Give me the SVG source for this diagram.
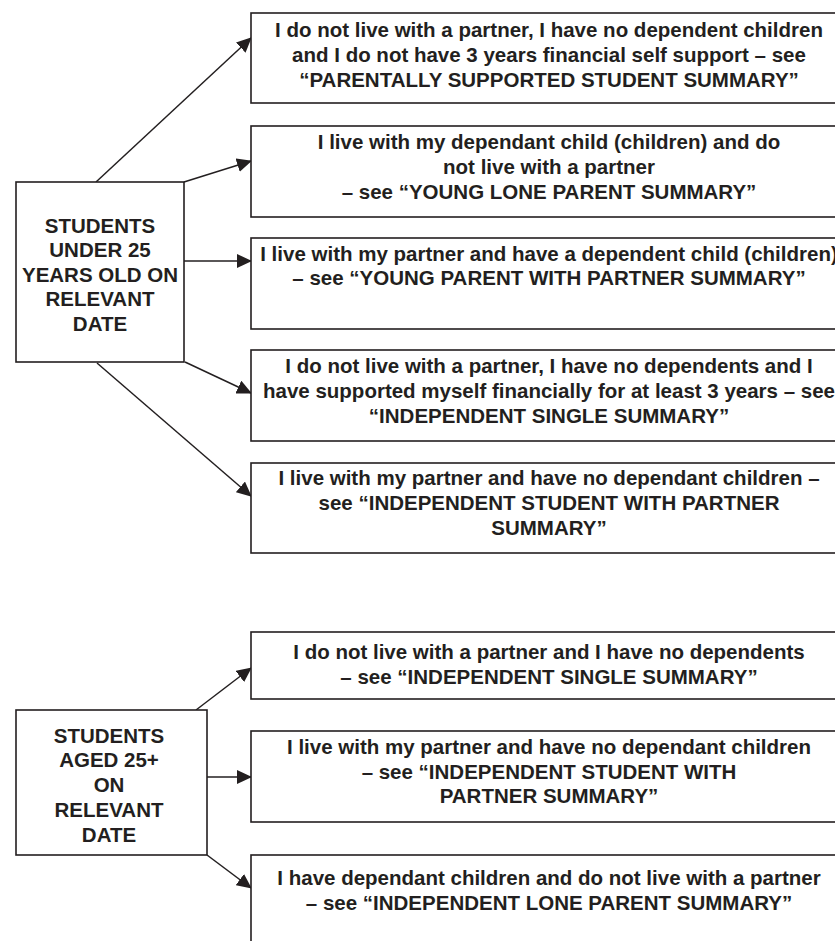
<svg xmlns="http://www.w3.org/2000/svg" width="835" height="941" viewBox="0 0 835 941">
<style>
.box{fill:#fff;stroke:#231f20;stroke-width:1.6}
.t{font-family:"Liberation Sans",Arial,sans-serif;font-weight:bold;font-size:20.5px;fill:#231f20;text-anchor:middle}
.c{stroke:#231f20;stroke-width:1.5;fill:none;marker-end:url(#ah)}
</style>
<defs>
<marker id="ah" markerUnits="userSpaceOnUse" markerWidth="15" markerHeight="14" refX="14" refY="7" orient="auto" viewBox="0 0 15 14">
<path d="M0,0 L15,7 L0,14 z" fill="#231f20"/>
</marker>
</defs>
<rect width="835" height="941" fill="#fff"/>
<g id="connectors">
<line class="c" x1="96" y1="182" x2="251" y2="38"/>
<line class="c" x1="184" y1="182" x2="251" y2="161"/>
<line class="c" x1="184" y1="261" x2="251" y2="261"/>
<line class="c" x1="185" y1="362" x2="251" y2="393"/>
<line class="c" x1="97" y1="363" x2="251" y2="496"/>
<line class="c" x1="196" y1="710" x2="251" y2="668"/>
<line class="c" x1="207" y1="777" x2="251" y2="777"/>
<line class="c" x1="207" y1="855" x2="251" y2="888"/>
</g>
<g id="under25">
<rect class="box" x="16" y="182" width="168" height="180"/>
<text class="t" x="100" y="233">STUDENTS</text>
<text class="t" x="100" y="257">UNDER 25</text>
<text class="t" x="100" y="282">YEARS OLD ON</text>
<text class="t" x="100" y="306">RELEVANT</text>
<text class="t" x="100" y="331">DATE</text>
</g>
<g id="parentally">
<rect class="box" x="251" y="13" width="600" height="90"/>
<text class="t" x="549" y="37">I do not live with a partner, I have no dependent children</text>
<text class="t" x="549" y="62">and I do not have 3 years financial self support – see</text>
<text class="t" x="549" y="87">“PARENTALLY SUPPORTED STUDENT SUMMARY”</text>
</g>
<g id="younglone">
<rect class="box" x="251" y="126" width="600" height="91"/>
<text class="t" x="549" y="149">I live with my dependant child (children) and do</text>
<text class="t" x="549" y="174">not live with a partner</text>
<text class="t" x="549" y="199">– see “YOUNG LONE PARENT SUMMARY”</text>
</g>
<g id="youngpartner">
<rect class="box" x="251" y="238" width="600" height="91"/>
<text class="t" x="549" y="261">I live with my partner and have a dependent child (children)</text>
<text class="t" x="549" y="285">– see “YOUNG PARENT WITH PARTNER SUMMARY”</text>
</g>
<g id="indsingle1">
<rect class="box" x="251" y="350" width="600" height="91"/>
<text class="t" x="549" y="373">I do not live with a partner, I have no dependents and I</text>
<text class="t" x="549" y="398">have supported myself financially for at least 3 years – see</text>
<text class="t" x="549" y="423">“INDEPENDENT SINGLE SUMMARY”</text>
</g>
<g id="indpartner1">
<rect class="box" x="251" y="463" width="600" height="90"/>
<text class="t" x="549" y="485">I live with my partner and have no dependant children –</text>
<text class="t" x="549" y="510">see “INDEPENDENT STUDENT WITH PARTNER</text>
<text class="t" x="549" y="535">SUMMARY”</text>
</g>
<g id="aged25">
<rect class="box" x="16" y="710" width="191" height="145"/>
<text class="t" x="109" y="743">STUDENTS</text>
<text class="t" x="109" y="767">AGED 25+</text>
<text class="t" x="109" y="792">ON</text>
<text class="t" x="109" y="817">RELEVANT</text>
<text class="t" x="109" y="842">DATE</text>
</g>
<g id="indsingle2">
<rect class="box" x="251" y="632" width="600" height="67"/>
<text class="t" x="549" y="659">I do not live with a partner and I have no dependents</text>
<text class="t" x="549" y="684">– see “INDEPENDENT SINGLE SUMMARY”</text>
</g>
<g id="indpartner2">
<rect class="box" x="251" y="731" width="600" height="91"/>
<text class="t" x="549" y="754">I live with my partner and have no dependant children</text>
<text class="t" x="549" y="779">– see “INDEPENDENT STUDENT WITH</text>
<text class="t" x="549" y="803">PARTNER SUMMARY”</text>
</g>
<g id="indlone">
<rect class="box" x="251" y="855" width="600" height="100"/>
<text class="t" x="549" y="885">I have dependant children and do not live with a partner</text>
<text class="t" x="549" y="910">– see “INDEPENDENT LONE PARENT SUMMARY”</text>
</g>
</svg>
